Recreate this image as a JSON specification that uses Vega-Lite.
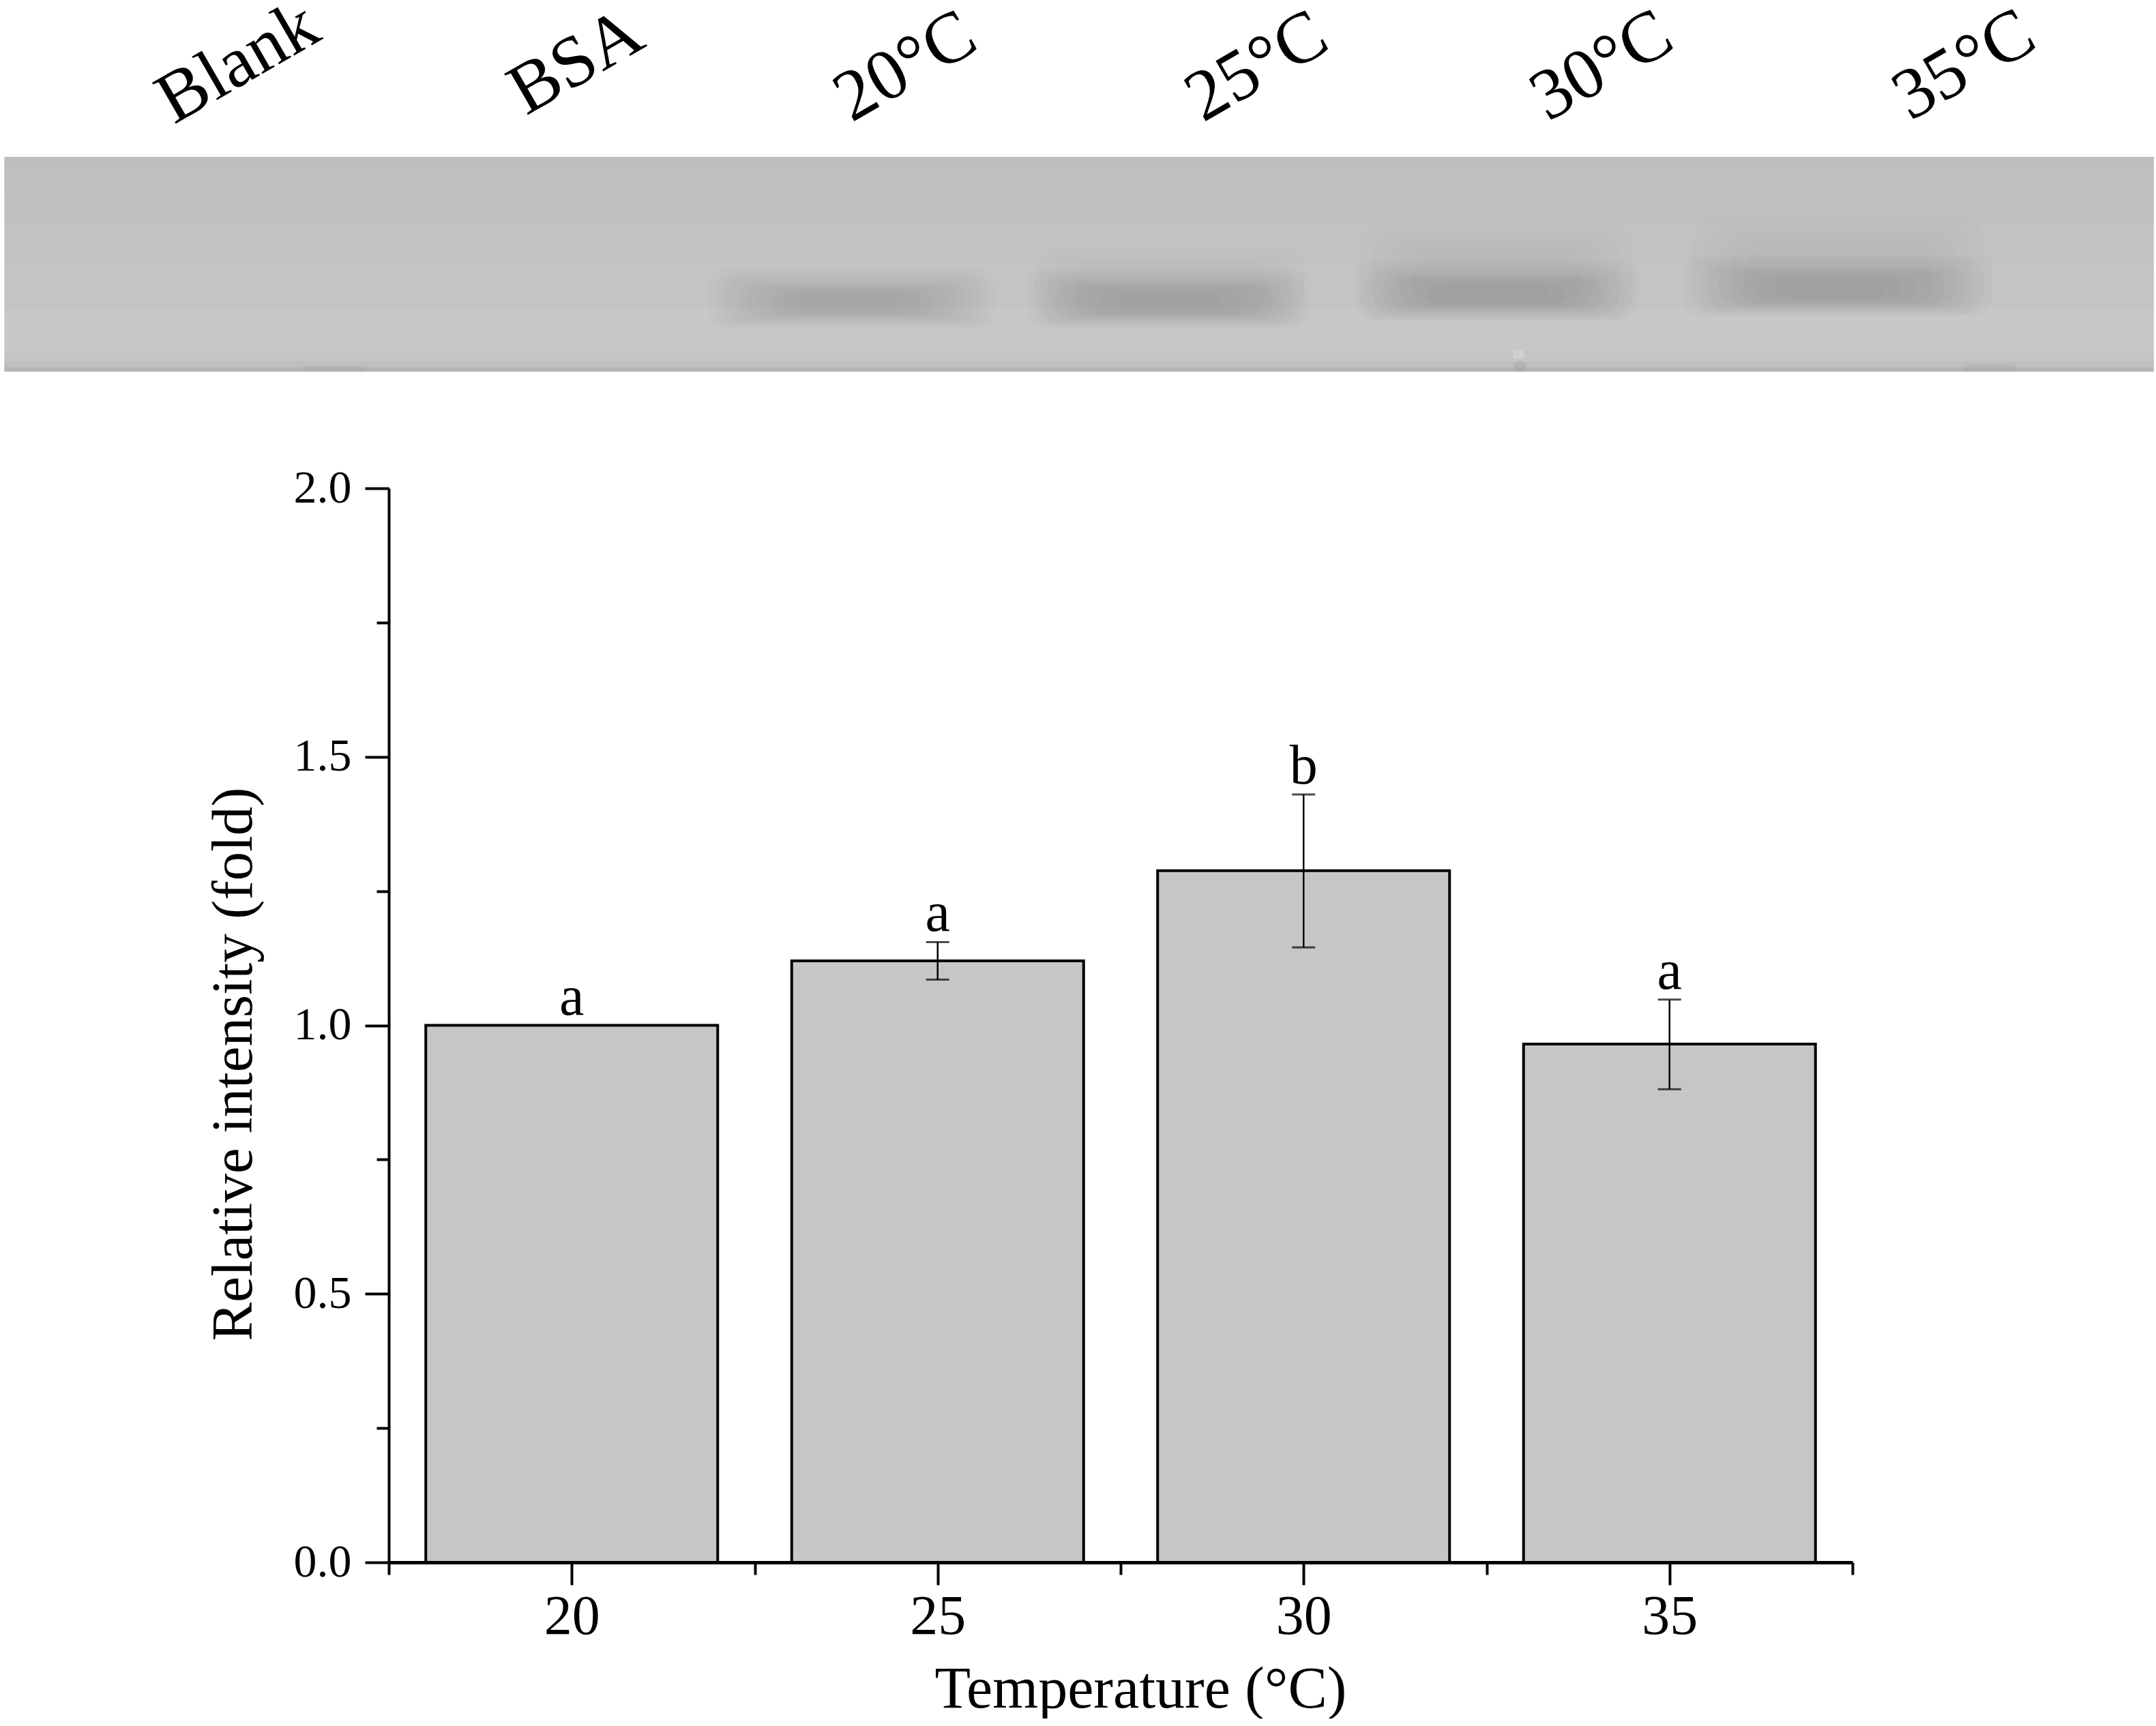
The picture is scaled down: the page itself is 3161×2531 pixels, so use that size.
{"$schema":"https://vega.github.io/schema/vega-lite/v6.json","background":"white","padding":0,"spacing":137,"config":{"view":{"stroke":null},"font":"Liberation Serif"},
"vconcat":[
{"width":3161,"height":545,
"layer":[
{"data":{"values":[
{"left":0.2,"right":99.9,"top":0,"bottom":5.5,"density":3.8},
{"left":0.2,"right":99.9,"top":5,"bottom":15.5,"density":3.5},
{"left":0.2,"right":99.9,"top":15,"bottom":30.5,"density":3.2},
{"left":0.2,"right":99.9,"top":30,"bottom":50.5,"density":2.8},
{"left":0.2,"right":99.9,"top":50,"bottom":70.5,"density":2.4},
{"left":0.2,"right":99.9,"top":70,"bottom":90.5,"density":1.9},
{"left":0.2,"right":99.9,"top":90,"bottom":95.5,"density":2.2},
{"left":0.2,"right":99.9,"top":95,"bottom":98.5,"density":3.5},
{"left":0.2,"right":99.9,"top":98,"bottom":100,"density":5.5},
{"left":70.2,"right":70.7,"top":90,"bottom":94,"density":0}
]},
"mark":{"type":"rect"},
"encoding":{"x":{"field":"left","type":"quantitative","scale":{"domain":[0,100],"nice":false},"axis":null},"x2":{"field":"right"},"y":{"field":"top","type":"quantitative","scale":{"domain":[100,-73],"nice":false},"axis":null},"y2":{"field":"bottom"},"color":{"field":"density","type":"quantitative","scale":{"domain":[0,10],"range":["#d0d0d0","#a0a0a0"]},"legend":null}}},
{"data":{"values":[
{"left":48,"right":60.5,"top":42,"bottom":78},
{"left":48.6,"right":60,"top":45,"bottom":76},
{"left":49.2,"right":59.4,"top":48,"bottom":74},
{"left":49.8,"right":58.8,"top":51,"bottom":72},
{"left":63,"right":75.8,"top":30,"bottom":76},
{"left":63.6,"right":75.2,"top":34,"bottom":74},
{"left":64.2,"right":74.6,"top":38,"bottom":72},
{"left":64.8,"right":74,"top":42,"bottom":70},
{"left":65.4,"right":73.4,"top":46,"bottom":68},
{"left":78.5,"right":92,"top":26,"bottom":74},
{"left":79.1,"right":91.4,"top":30,"bottom":72},
{"left":79.7,"right":90.8,"top":34,"bottom":70},
{"left":80.3,"right":90.2,"top":38,"bottom":68},
{"left":80.9,"right":89.6,"top":42,"bottom":66}
]},
"mark":{"type":"rect","cornerRadius":40,"color":"black","opacity":0.008},
"encoding":{"x":{"field":"left","type":"quantitative"},"x2":{"field":"right"},"y":{"field":"top","type":"quantitative"},"y2":{"field":"bottom"}}},
{"data":{"values":[
{"left":32.9,"right":46.1,"top":52,"bottom":80},
{"left":33.2,"right":45.8,"top":53.5,"bottom":79},
{"left":33.5,"right":45.5,"top":55,"bottom":78},
{"left":33.8,"right":45.2,"top":56.5,"bottom":77},
{"left":34.2,"right":44.8,"top":58,"bottom":76},
{"left":34.6,"right":44.4,"top":59,"bottom":75},
{"left":35.1,"right":43.9,"top":60,"bottom":74.5},
{"left":35.7,"right":43.3,"top":61,"bottom":74},
{"left":36.3,"right":42.7,"top":62,"bottom":73},
{"left":37.1,"right":41.9,"top":63,"bottom":72},
{"left":47.6,"right":60.8,"top":52,"bottom":80},
{"left":47.9,"right":60.5,"top":53.5,"bottom":79},
{"left":48.2,"right":60.2,"top":55,"bottom":78},
{"left":48.5,"right":59.9,"top":56.5,"bottom":77},
{"left":48.9,"right":59.5,"top":58,"bottom":76},
{"left":49.3,"right":59.1,"top":59,"bottom":75},
{"left":49.8,"right":58.6,"top":60,"bottom":74.5},
{"left":50.4,"right":58,"top":61,"bottom":74},
{"left":51,"right":57.4,"top":62,"bottom":73},
{"left":51.8,"right":56.6,"top":63,"bottom":72},
{"left":62.8,"right":76,"top":48.4,"bottom":76.4},
{"left":63.1,"right":75.7,"top":49.9,"bottom":75.4},
{"left":63.4,"right":75.4,"top":51.4,"bottom":74.4},
{"left":63.7,"right":75.1,"top":52.9,"bottom":73.4},
{"left":64.1,"right":74.7,"top":54.4,"bottom":72.4},
{"left":64.5,"right":74.3,"top":55.4,"bottom":71.4},
{"left":65,"right":73.8,"top":56.4,"bottom":70.9},
{"left":65.6,"right":73.2,"top":57.4,"bottom":70.4},
{"left":66.2,"right":72.6,"top":58.4,"bottom":69.4},
{"left":67,"right":71.8,"top":59.4,"bottom":68.4},
{"left":78,"right":92.4,"top":46,"bottom":74},
{"left":78.4,"right":92,"top":47.5,"bottom":73},
{"left":78.8,"right":91.6,"top":49,"bottom":72},
{"left":79.2,"right":91.2,"top":50.5,"bottom":71},
{"left":79.7,"right":90.7,"top":52,"bottom":70},
{"left":80.2,"right":90.2,"top":53,"bottom":69},
{"left":80.8,"right":89.6,"top":54,"bottom":68.5},
{"left":81.5,"right":88.9,"top":55,"bottom":68},
{"left":82.2,"right":88.2,"top":56,"bottom":67},
{"left":83,"right":87.4,"top":57,"bottom":66},
{"left":70.2,"right":70.8,"top":95,"bottom":100},
{"left":70.2,"right":70.8,"top":95,"bottom":100},
{"left":70.2,"right":70.8,"top":95,"bottom":100},
{"left":70.2,"right":70.8,"top":95,"bottom":100},
{"left":14,"right":17,"top":97,"bottom":100},
{"left":14,"right":17,"top":97,"bottom":100},
{"left":91,"right":93.5,"top":96,"bottom":100},
{"left":91,"right":93.5,"top":96,"bottom":100}
]},
"mark":{"type":"rect","cornerRadius":24,"color":"black","opacity":0.012},
"encoding":{"x":{"field":"left","type":"quantitative"},"x2":{"field":"right"},"y":{"field":"top","type":"quantitative"},"y2":{"field":"bottom"}}},
{"data":{"values":[
{"label":"Blank","pos":8.07,"mig":-14.9},
{"label":"BSA","pos":24.4,"mig":-19},
{"label":"20°C","pos":39.5,"mig":-15.9},
{"label":"25°C","pos":55.8,"mig":-15.9},
{"label":"30°C","pos":71.8,"mig":-16.2},
{"label":"35°C","pos":88.6,"mig":-16.5}
]},
"mark":{"type":"text","font":"Liberation Serif","fontSize":106,"angle":-30,"align":"left","baseline":"alphabetic","color":"black","clip":true},
"encoding":{"x":{"field":"pos","type":"quantitative"},"y":{"field":"mig","type":"quantitative"},"text":{"field":"label"}}}
]},
{"spacing":0,"hconcat":[
{"data":{"values":[]},"width":300,"height":10,"mark":"rect","encoding":{}},
{"width":2146,"height":1575,
"data":{"values":[
{"temperature":20,"intensity":1.0,"low":1.0,"high":1.0,"letter":"a"},
{"temperature":25,"intensity":1.12,"low":1.085,"high":1.155,"letter":"a"},
{"temperature":30,"intensity":1.288,"low":1.145,"high":1.43,"letter":"b"},
{"temperature":35,"intensity":0.965,"low":0.881,"high":1.048,"letter":"a"}
]},
"layer":[
{"mark":{"type":"bar","size":428,"fill":"#c6c6c6","stroke":"black","strokeWidth":4},
"encoding":{"x":{"field":"temperature","type":"quantitative","scale":{"domain":[17.5,37.5],"nice":false,"padding":0},
"axis":{"orient":"bottom","values":[20,25,30,35],"format":"d","title":"Temperature (°C)","titleX":1102,"grid":false,"domainColor":"black","domainWidth":5,"tickColor":"black","tickWidth":4,"tickSize":33,"labelFont":"Liberation Serif","labelFontSize":82,"labelColor":"black","labelPadding":6,"titleFont":"Liberation Serif","titleFontSize":86,"titleColor":"black","titleFontWeight":"normal","titlePadding":24,"zindex":1,"labelFlush":false}},
"y":{"field":"intensity","type":"quantitative","scale":{"domain":[0,2],"nice":false},
"axis":{"orient":"left","values":[0,0.5,1,1.5,2],"format":".1f","title":"Relative intensity (fold)","titleY":844,"grid":false,"domainColor":"black","domainWidth":4,"tickColor":"black","tickWidth":4,"tickSize":35,"labelFont":"Liberation Serif","labelFontSize":68,"labelColor":"black","labelPadding":20,"titleFont":"Liberation Serif","titleFontSize":85,"titleColor":"black","titleFontWeight":"normal","titlePadding":44,"zindex":1,"labelFlush":false}}}},
{"mark":{"type":"rule","color":"black","strokeWidth":2.5},
"encoding":{"x":{"field":"temperature","type":"quantitative","axis":{"orient":"bottom","values":[17.5,22.5,27.5,32.5,37.5],"title":null,"labels":false,"domain":false,"grid":false,"tickColor":"black","tickWidth":4,"tickSize":18}},
"y":{"field":"low","type":"quantitative","axis":{"orient":"left","values":[0.25,0.75,1.25,1.75],"title":null,"labels":false,"domain":false,"grid":false,"tickColor":"black","tickWidth":4,"tickSize":18}},"y2":{"field":"high"}}},
{"mark":{"type":"tick","orient":"horizontal","color":"black","size":34,"thickness":3},
"encoding":{"x":{"field":"temperature","type":"quantitative","axis":null},"y":{"field":"low","type":"quantitative","axis":null}}},
{"mark":{"type":"tick","orient":"horizontal","color":"black","size":34,"thickness":3},
"encoding":{"x":{"field":"temperature","type":"quantitative","axis":null},"y":{"field":"high","type":"quantitative","axis":null}}},
{"mark":{"type":"text","font":"Liberation Serif","fontSize":82,"baseline":"alphabetic","dy":-16,"color":"black"},
"encoding":{"x":{"field":"temperature","type":"quantitative","axis":null},"y":{"field":"high","type":"quantitative","axis":null},"text":{"field":"letter"}}}
],
"resolve":{"axis":{"x":"independent","y":"independent"}}}
]}
]}
